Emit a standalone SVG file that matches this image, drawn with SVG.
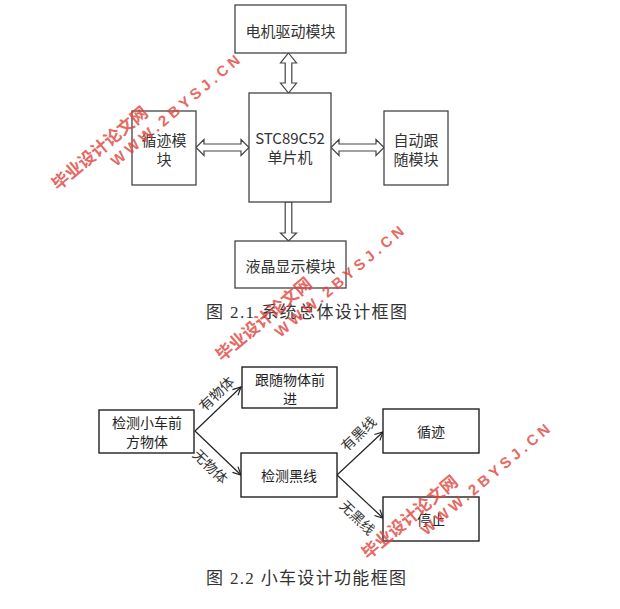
<svg xmlns="http://www.w3.org/2000/svg" width="620" height="609" viewBox="0 0 620 609">
<defs>
<marker id="ah" markerWidth="10" markerHeight="10" refX="9" refY="5" orient="auto" markerUnits="userSpaceOnUse">
<path d="M1,1 L9,5 L1,9" fill="none" stroke="#222" stroke-width="1.2"/>
</marker>
<style>
.box{fill:#fff;stroke:#444;stroke-width:1.3}
.box2{fill:#fff;stroke:#222;stroke-width:1.4}
.harrow{fill:#fff;stroke:#444;stroke-width:1.2;stroke-linejoin:miter}
.t{font-family:"Noto Sans CJK SC","Liberation Sans",sans-serif;font-size:15px;fill:#333;text-anchor:middle;dominant-baseline:central}
.t2{font-family:"Noto Sans CJK SC","Liberation Sans",sans-serif;font-size:14px;fill:#222;text-anchor:middle;dominant-baseline:central}
.lbl{font-family:"Noto Sans CJK SC","Liberation Sans",sans-serif;font-size:14px;fill:#333;text-anchor:middle;dominant-baseline:central}
.cap{font-family:"Liberation Serif","Noto Sans CJK SC",serif;font-size:17px;fill:#333;dominant-baseline:central}
.line{fill:none;stroke:#222;stroke-width:1.2}
.wm1{font-family:"Noto Sans CJK SC",sans-serif;font-weight:bold;font-size:17px;fill:#e0443c;opacity:0.8}
.wm2{font-family:"Liberation Sans",sans-serif;font-weight:bold;font-size:15px;letter-spacing:4px;fill:#e0443c;opacity:0.8}
</style>
</defs>
<rect width="620" height="609" fill="#fff"/>

<!-- Figure 2.1 -->
<g id="connectors-top">
<polygon class="harrow" points="288.5,53 296.5,63 291.8,63 291.8,83 296.5,83 288.5,93 280.5,83 285.2,83 285.2,63 280.5,63"/>
<polygon class="harrow" points="196,147.5 204,139.5 204,144 241,144 241,139.5 249,147.5 241,155.5 241,151 204,151 204,155.5"/>
<polygon class="harrow" points="331,147.5 339,139.5 339,144 376,144 376,139.5 384,147.5 376,155.5 376,151 339,151 339,155.5"/>
<polygon class="harrow" points="285.2,202 291.8,202 291.8,233 296.5,233 288.5,241 280.5,233 285.2,233"/>
</g>
<g id="motor">
<rect class="box" x="235" y="5" width="111" height="48"/>
<text class="t" x="290.5" y="30">电机驱动模块</text>
</g>
<g id="mcu">
<rect class="box" x="249" y="93" width="82" height="109"/>
<text class="t" x="290" y="137">STC89C52</text>
<text class="t" x="290" y="156">单片机</text>
</g>
<g id="track">
<rect class="box" x="132" y="111" width="64" height="74"/>
<text class="t" x="164" y="139">循迹模</text>
<text class="t" x="164" y="158">块</text>
</g>
<g id="follow">
<rect class="box" x="384" y="111" width="64" height="74"/>
<text class="t" x="416" y="139">自动跟</text>
<text class="t" x="416" y="158">随模块</text>
</g>
<g id="lcd">
<rect class="box" x="235" y="241" width="111" height="47"/>
<text class="t" x="290.5" y="265">液晶显示模块</text>
</g>
<text class="cap" x="206" y="312" textLength="201">图 2.1  系统总体设计框图</text>

<!-- Figure 2.2 -->
<g id="connectors-bottom">
<line class="line" x1="195" y1="431" x2="241" y2="387" marker-end="url(#ah)"/>
<line class="line" x1="195" y1="431" x2="241" y2="475" marker-end="url(#ah)"/>
<line class="line" x1="337" y1="475" x2="383" y2="432" marker-end="url(#ah)"/>
<line class="line" x1="337" y1="475" x2="383" y2="518" marker-end="url(#ah)"/>
<text class="lbl" transform="translate(216,393) rotate(-44)">有物体</text>
<text class="lbl" transform="translate(211,466) rotate(44)">无物体</text>
<text class="lbl" transform="translate(358,433) rotate(-44)">有黑线</text>
<text class="lbl" transform="translate(358,517) rotate(44)">无黑线</text>
</g>
<g id="detect">
<rect class="box2" x="99" y="410" width="95" height="43"/>
<text class="t2" x="147" y="422">检测小车前</text>
<text class="t2" x="147" y="441">方物体</text>
</g>
<g id="followfwd">
<rect class="box2" x="242" y="367" width="95" height="41"/>
<text class="t2" x="290" y="379">跟随物体前</text>
<text class="t2" x="290" y="398">进</text>
</g>
<g id="blackline">
<rect class="box2" x="241" y="453" width="96" height="44"/>
<text class="t2" x="289" y="475">检测黑线</text>
</g>
<g id="trace">
<rect class="box2" x="383" y="409" width="96" height="44"/>
<text class="t2" x="431" y="431">循迹</text>
</g>
<g id="stop">
<rect class="box2" x="383" y="497" width="96" height="44"/>
<text class="t2" x="431" y="519">停止</text>
</g>
<text class="cap" x="206" y="578" textLength="200">图 2.2  小车设计功能框图</text>

<!-- watermarks -->
<g transform="translate(58,191) rotate(-40)">
<text class="wm1" x="0" y="0">毕业设计论文网</text>
<text class="wm2" x="60" y="19">WWW.2BYSJ.CN</text>
</g>
<g transform="translate(222,362) rotate(-40)">
<text class="wm1" x="0" y="0">毕业设计论文网</text>
<text class="wm2" x="60" y="19">WWW.2BYSJ.CN</text>
</g>
<g transform="translate(368,560) rotate(-40)">
<text class="wm1" x="0" y="0">毕业设计论文网</text>
<text class="wm2" x="60" y="19">WWW.2BYSJ.CN</text>
</g>
</svg>
